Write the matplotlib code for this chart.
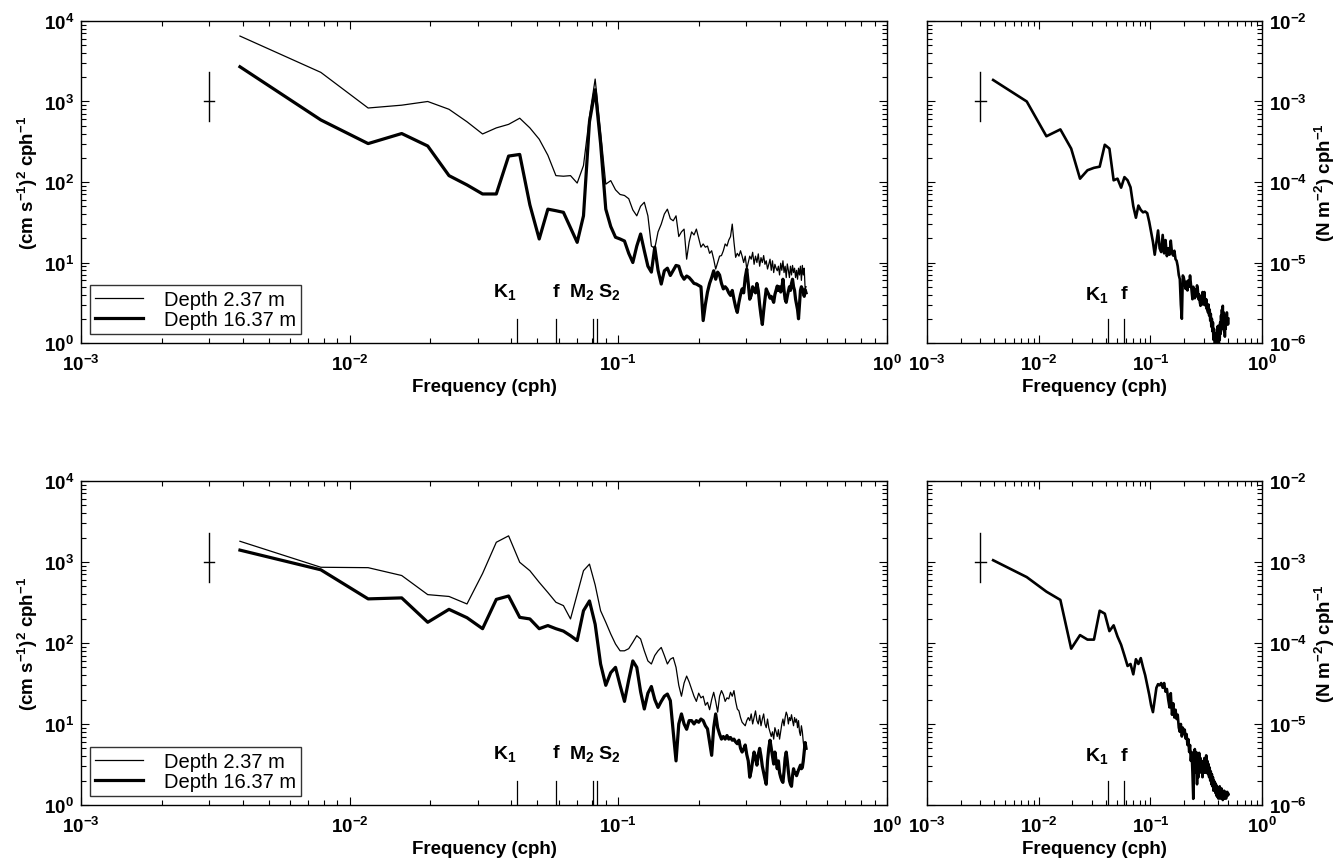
import numpy as np
import matplotlib
matplotlib.use("Agg")
import matplotlib.pyplot as plt

# spectral estimates at harmonics k/256 cph, k = 1..128
freq = np.arange(1, 129) / 256.0

top_shallow = [
    6500, 2300, 830, 900, 1000, 800, 560, 395, 470, 520,
    620, 470, 340, 215, 120, 118, 120, 97, 160, 650,
    1900, 420, 94, 104, 80, 70, 68, 62, 45, 38,
    50, 56, 38, 16, 15, 24, 30, 40, 46, 35,
    33, 38, 21, 24, 26, 11, 18, 24, 22, 26,
    20, 15.5, 17, 15.5, 16, 13, 14, 11, 8.3, 10,
    12, 12.2, 14, 17, 16, 19, 21, 30, 18, 11.6,
    13, 12, 14, 12, 10, 12, 8.3, 10, 12, 11,
    13.4, 9.5, 12, 10, 12.8, 9, 11.5, 10, 12.2, 9.5,
    10.5, 8.3, 9.5, 11, 8, 10.5, 7.5, 9.5, 8.5, 7.9,
    9, 7, 9.8, 8, 10.5, 7.5, 9, 6.5, 9.6, 8,
    6.5, 9, 7, 9.2, 7.5, 8.5, 6.5, 8, 6.2, 8.5,
    7, 9, 6, 9.2, 7, 8.5, 4.7, 5,
]
top_deep = [
    2700, 590, 300, 400, 280, 120, 92, 71, 71, 210,
    220, 52, 19.6, 46, 44, 42, 27, 17.8, 38, 560,
    1400, 300, 46, 28, 20.6, 19.6, 18.5, 13, 10, 16,
    22.6, 14, 9, 7.6, 15.5, 8, 5.4, 7.9, 8.5, 6.9,
    8, 9.2, 9, 7, 6.2, 6.8, 6.5, 6, 5.5, 5.4,
    5.2, 5, 1.9, 3, 4.3, 5.5, 6.5, 7.9, 6.2, 7.6,
    7, 5.5, 4.7, 5, 4.7, 4.2, 3.9, 4.5, 3.5, 2.8,
    2.4, 3.2, 4, 4.7, 4.2, 6.5, 8.3, 5.5, 3.5, 3.9,
    5, 4.5, 4.2, 5.5, 4.5, 3, 2.2, 1.7, 2.5, 3.5,
    4.7, 4.3, 4, 3.6, 3.8, 3.5, 3.2, 4, 4.5, 5.1,
    4.5, 5, 4.3, 4.8, 6.2, 4.5, 3.5, 3.2, 3.8, 4.4,
    5, 4.5, 5.5, 6.2, 5, 4.5, 3.5, 3, 2.6, 2,
    3, 4.5, 5, 4.7, 4.3, 3.8, 4.6, 4.2,
]
top_stress = [
    1.85e-3, 1.0e-3, 3.7e-4, 4.5e-4, 2.6e-4, 1.1e-4, 1.4e-4, 1.5e-4, 1.55e-4, 2.9e-4,
    2.6e-4, 1.05e-4, 1.1e-4, 8.5e-5, 1.15e-4, 1.05e-4, 8.6e-5, 5.0e-5, 3.6e-5, 5.1e-5,
    4.5e-5, 4.2e-5, 4.3e-5, 4.1e-5, 3.2e-5, 2.4e-5, 1.8e-5, 1.25e-5, 1.8e-5, 2.5e-5,
    1.5e-5, 1.35e-5, 2.2e-5, 1.3e-5, 1.9e-5, 1.2e-5, 1.5e-5, 1.25e-5, 1.87e-5, 1.3e-5,
    1.22e-5, 1.4e-5, 1.1e-5, 1.05e-5, 9e-6, 7e-6, 6.2e-6, 3e-6, 2e-6, 6.9e-6,
    6.5e-6, 5.5e-6, 4.7e-6, 5.8e-6, 4.5e-6, 6e-6, 5e-6, 6.9e-6, 5.5e-6, 4.5e-6,
    3.5e-6, 5e-6, 4.2e-6, 3.6e-6, 4.6e-6, 3.8e-6, 5.2e-6, 4.7e-6, 3.5e-6, 4e-6,
    3.2e-6, 2.9e-6, 3.8e-6, 3.2e-6, 4.3e-6, 3e-6, 3.8e-6, 4.3e-6, 3.2e-6, 2.9e-6,
    3.5e-6, 2.64e-6, 3e-6, 2.4e-6, 3e-6, 2.2e-6, 2.6e-6, 1.9e-6, 2.3e-6, 1.6e-6,
    2e-6, 1.4e-6, 1.8e-6, 1.1e-6, 1.5e-6, 1.23e-6, 9e-7, 1.3e-6, 8e-7, 1.2e-6,
    9e-7, 1.6e-6, 1.0e-6, 1.64e-6, 9e-7, 1.3e-6, 1.1e-6, 1.8e-6, 1.3e-6, 2.2e-6,
    1.5e-6, 2.6e-6, 1.7e-6, 2.9e-6, 1.6e-6, 2.4e-6, 1.4e-6, 2.0e-6, 1.2e-6, 1.9e-6,
    1.5e-6, 2.2e-6, 1.7e-6, 2.4e-6, 1.8e-6, 2.0e-6, 1.7e-6, 2.0e-6,
]
bot_shallow = [
    1800, 860, 850, 680, 395, 375, 303, 720, 1750, 2100,
    990, 780, 560, 420, 318, 289, 198, 400, 780, 940,
    520, 250, 180, 129, 97, 80, 80, 85, 102, 123,
    112, 80, 60, 55, 70, 80, 88, 70, 55, 63,
    66, 50, 30, 22, 32, 39, 33, 27, 22, 19,
    24, 21, 22, 17, 18.5, 15, 20, 24.6, 19, 14,
    22, 25.8, 23, 19, 21, 20.4, 24.6, 22, 25.8, 19,
    15.3, 14.5, 12, 10.5, 10, 9.5, 11, 12, 11, 13.3,
    10, 12, 14.5, 11, 10, 12.8, 9.5, 11.5, 13.3, 10,
    9, 11.5, 9, 7.9, 7, 8, 6.5, 9, 8, 7,
    8.5, 6.5, 8, 10, 11.5, 9.5, 12, 14, 12.8, 10,
    12, 11, 13, 11, 9.5, 12, 10.5, 11.5, 9, 11,
    8, 7.2, 9.5, 8, 6, 4.9, 5.5, 5.9,
]
bot_deep = [
    1400, 800, 350, 360, 180, 260, 205, 150, 345, 380,
    207, 198, 150, 164, 150, 140, 123, 107, 250, 330,
    170, 55, 30, 43, 50, 30, 19, 35, 60, 50,
    25, 15.3, 24, 29, 20, 16, 19, 22, 23.4, 19.4,
    8, 3.5, 10, 13.3, 10, 8.6, 11, 11, 10, 11,
    10.5, 11.5, 11, 9.5, 8.7, 6, 4.1, 9, 13.3, 9,
    7.5, 6.5, 7, 6.5, 7.2, 6.5, 6.8, 6.3, 6.5, 6,
    5.7, 6.3, 5, 4.5, 4.9, 5.5, 4.2, 3.5, 2.2, 2.65,
    3.5, 4.5, 3.8, 3.1, 4.2, 5, 4, 3, 2.5, 2.1,
    1.8, 3.5, 5, 6.3, 5, 4, 3.2, 4.5, 3.5, 2.8,
    3.5, 2.5, 2.2, 2, 1.9, 2.6, 3.8, 4.5, 3.5, 2.6,
    2, 1.8, 1.7, 2.3, 2.8, 2.5, 2.5, 2.3, 2.5, 2.7,
    2.9, 3.1, 2.8, 2.9, 3.5, 4.5, 5.9, 5,
]
bot_stress = [
    1.05e-3, 6.5e-4, 4.3e-4, 3.4e-4, 8.5e-5, 1.25e-4, 1.1e-4, 1.1e-4, 2.5e-4, 2.3e-4,
    1.4e-4, 1.65e-4, 1.2e-4, 9.5e-5, 7e-5, 5.2e-5, 5.5e-5, 4.1e-5, 6.3e-5, 5.5e-5,
    6.5e-5, 5e-5, 4e-5, 3e-5, 2.3e-5, 1.7e-5, 1.4e-5, 2e-5, 2.8e-5, 3.1e-5,
    3e-5, 3.2e-5, 2.8e-5, 3.2e-5, 2.5e-5, 2.7e-5, 2e-5, 1.6e-5, 2.4e-5, 1.3e-5,
    1.8e-5, 1.2e-5, 1.5e-5, 1.15e-5, 1.3e-5, 9e-6, 8e-6, 1.0e-5, 7e-6, 9e-6,
    7.5e-6, 8.5e-6, 6.6e-6, 7.5e-6, 5.5e-6, 6.5e-6, 4.5e-6, 5.5e-6, 3.5e-6, 4.5e-6,
    2.5e-6, 1.19e-6, 3e-6, 4.9e-6, 2.5e-6, 4.5e-6, 1.8e-6, 4e-6, 2.2e-6, 4.4e-6,
    3e-6, 3.8e-6, 2.5e-6, 3.5e-6, 2.2e-6, 3.2e-6, 2.5e-6, 3.8e-6, 2.8e-6, 2.5e-6,
    4.1e-6, 2.6e-6, 3.5e-6, 2.4e-6, 3.2e-6, 2.2e-6, 2.9e-6, 2e-6, 2.6e-6, 1.8e-6,
    2.4e-6, 1.7e-6, 2.2e-6, 1.5e-6, 2e-6, 1.58e-6, 1.9e-6, 1.4e-6, 1.8e-6, 1.3e-6,
    1.7e-6, 1.25e-6, 1.6e-6, 1.2e-6, 1.5e-6, 1.3e-6, 1.7e-6, 1.2e-6, 1.5e-6, 1.3e-6,
    1.6e-6, 1.2e-6, 1.45e-6, 1.15e-6, 1.4e-6, 1.3e-6, 1.5e-6, 1.2e-6, 1.4e-6, 1.3e-6,
    1.45e-6, 1.2e-6, 1.4e-6, 1.3e-6, 1.45e-6, 1.3e-6, 1.4e-6, 1.35e-6,
]

# tidal / inertial frequencies (cph)
tide_names = ["K$_1$", "f", "M$_2$", "S$_2$"]
tide_freq = [0.0418, 0.0585, 0.0805, 0.0833]

# 95% confidence bar drawn at f = 0.003
ci_freq = 0.003
ci_vel = [1000, 570, 2300]       # centre, lower, upper
ci_tau = [1e-3, 5.7e-4, 2.3e-3]

plt.rcParams["font.family"] = ["Liberation Sans", "DejaVu Sans"]
plt.rcParams["font.weight"] = "bold"
plt.rcParams["mathtext.fontset"] = "custom"
plt.rcParams["mathtext.rm"] = "Liberation Sans:bold"
plt.rcParams["mathtext.it"] = "Liberation Sans:bold"
plt.rcParams["mathtext.bf"] = "Liberation Sans:bold"
plt.rcParams["mathtext.default"] = "rm"

fig = plt.figure(figsize=(13.43, 8.62), dpi=100)


def style_axes(ax, right_labels=False):
    ax.set_xscale("log")
    ax.set_yscale("log")
    ax.set_xlim(1e-3, 1e0)
    ax.tick_params(which="both", direction="in", top=True, right=True,
                   labelsize=13.5, width=0.8)
    ax.tick_params(which="major", length=6, pad=5)
    ax.tick_params(which="minor", length=3.5)
    ax.tick_params(axis="x", which="major", pad=8)
    if right_labels:
        ax.yaxis.tick_right()
        ax.yaxis.set_label_position("right")
        ax.tick_params(which="both", left=True)
    for s in ax.spines.values():
        s.set_linewidth(1.0)
    ax.set_xlabel("Frequency (cph)", fontsize=13.5, fontweight="bold", labelpad=3)


def cross(ax, ci, half):
    c, lo, hi = ci
    ax.plot([ci_freq, ci_freq], [lo, hi], color="black", lw=1)
    ax.plot([ci_freq / half, ci_freq * half], [c, c], color="black", lw=1)


def velocity_panel(rect, shallow, deep):
    ax = fig.add_axes(rect)
    style_axes(ax)
    ax.set_ylim(1e0, 1e4)
    ax.plot(freq, shallow, color="black", lw=0.9, label="Depth 2.37 m")
    ax.plot(freq, deep, color="black", lw=2.3, label="Depth 16.37 m")
    cross(ax, ci_vel, 1.045)
    for fr in tide_freq:
        ax.plot([fr, fr], [1.0, 2.0], color="black", lw=0.9)
    ax.text(tide_freq[0], 4.4, tide_names[0], ha="right", va="center", fontsize=14)
    ax.text(tide_freq[1], 4.4, tide_names[1], ha="center", va="center", fontsize=14)
    ax.text(tide_freq[2] * 1.01, 4.4, tide_names[2], ha="right", va="center", fontsize=14)
    ax.text(tide_freq[3] * 1.005, 4.4, tide_names[3], ha="left", va="center", fontsize=14)
    ax.set_ylabel("(cm s$^{-1}$)$^{2}$ cph$^{-1}$", fontsize=13.5, fontweight="bold",
                  labelpad=3)
    leg = ax.legend(loc="lower left", prop={"size": 14.5, "weight": "normal"},
                    frameon=True, fancybox=False, borderaxespad=0.45,
                    handlelength=2.4, borderpad=0.25, labelspacing=0.05,
                    handletextpad=1.0)
    leg.get_frame().set_edgecolor("black")
    leg.get_frame().set_linewidth(1.0)
    return ax


def stress_panel(rect, tau):
    ax = fig.add_axes(rect)
    style_axes(ax, right_labels=True)
    ax.set_ylim(1e-6, 1e-2)
    ax.plot(freq, tau, color="black", lw=1.9)
    cross(ax, ci_tau, 1.12)
    for fr in tide_freq[:2]:
        ax.plot([fr, fr], [1e-6, 2e-6], color="black", lw=0.9)
    ax.text(tide_freq[0], 4.1e-6, tide_names[0], ha="right", va="center", fontsize=14)
    ax.text(tide_freq[1], 4.1e-6, tide_names[1], ha="center", va="center", fontsize=14)
    ax.set_ylabel("(N m$^{-2}$) cph$^{-1}$", fontsize=13.5, fontweight="bold",
                  rotation=90, labelpad=4)
    return ax


velocity_panel([0.0603, 0.6009, 0.6001, 0.3736], top_shallow, top_deep)
stress_panel([0.6903, 0.6009, 0.2494, 0.3736], top_stress)
velocity_panel([0.0603, 0.0650, 0.6001, 0.3759], bot_shallow, bot_deep)
stress_panel([0.6903, 0.0650, 0.2494, 0.3759], bot_stress)

fig.savefig("out.png", dpi=100)
plt.close(fig)
